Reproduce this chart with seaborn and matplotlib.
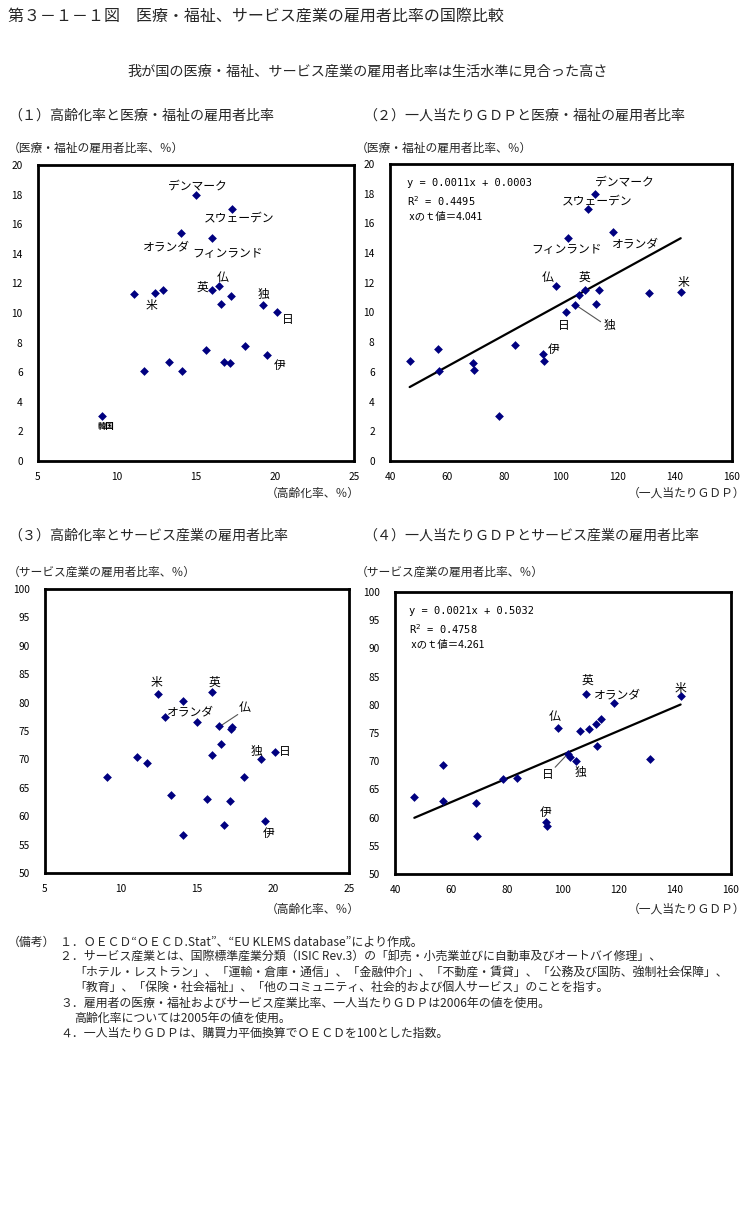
import numpy as np
import pandas as pd
import matplotlib
matplotlib.use('Agg')
import matplotlib.pyplot as plt
import seaborn as sns

# データ（2006年、高齢化率は2005年）
countries = ['デンマーク', 'スウェーデン', 'オランダ', 'フィンランド', 'アイルランド', '米',
             'オーストラリア', '英', '仏', 'ベルギー', 'オーストリア', '独', '日', 'ハンガリー',
             'ギリシャ', '伊', 'スペイン', 'ポーランド', 'ポルトガル', 'スロバキア', 'チェコ', '韓国']
aging = [15.0, 17.28, 14.07, 15.99, 11.08, 12.41, 12.91, 16.01, 16.46, 17.22, 16.58,
         19.24, 20.13, 15.63, 18.1, 19.47, 16.77, 13.29, 17.15, 11.71, 14.11, 9.05]
health = [17.98, 17.0, 15.4, 15.05, 11.3, 11.38, 11.54, 11.54, 11.81, 11.17, 10.6,
          10.53, 10.05, 7.52, 7.8, 7.18, 6.72, 6.71, 6.62, 6.05, 6.1, 3.03]
gdp = [111.8, 109.3, 118.1, 102.6, 131.0, 142.0, 113.5, 108.3, 98.1, 106.2, 112.2,
       104.8, 101.7, 57.0, 83.7, 93.8, 94.2, 46.9, 69.0, 57.2, 69.4, 78.4]
service = [76.57, 75.65, 80.35, 70.8, 70.35, 81.58, 77.53, 81.92, 75.9, 75.3, 72.64,
           70.1, 71.25, 62.95, 66.98, 59.22, 58.5, 63.65, 62.65, 69.28, 56.75, 66.83]

df = pd.DataFrame({'country': countries, 'aging': aging, 'health': health,
                   'gdp': gdp, 'service': service})

# 回帰式の表示テキスト
eq_health = ['y = 0.0011x + 0.0003', 'R$^2$ = 0.4495', ' xのｔ値＝4.041']
eq_service = ['y = 0.0021x + 0.5032', 'R$^2$ = 0.4758', ' xのｔ値＝4.261']

sns.set_theme(style='white')
plt.rcParams['font.family'] = ['Noto Sans CJK JP', 'DejaVu Sans']
plt.rcParams['axes.unicode_minus'] = False

W, H = 748, 1213
fig = plt.figure(figsize=(W / 100, H / 100), dpi=100)
fig.patch.set_facecolor('white')


def rect(l, t, r, b):
    return [l / W, 1 - b / H, (r - l) / W, (b - t) / H]


def ftext(x, y, s, size=8, ha='left', **kw):
    fig.text(x / W, 1 - y / H, s, fontsize=size, ha=ha, va='center', **kw)


NAVY = '#000080'


def panel(ax, x, y, xlim, xticks, ylim, yticks, fit=False):
    if fit:
        sns.regplot(data=df, x=x, y=y, ax=ax, scatter=False, ci=None, truncate=True,
                    line_kws=dict(color='black', lw=1.6))
    sns.scatterplot(data=df, x=x, y=y, ax=ax, marker='D', s=20, color=NAVY,
                    edgecolor=NAVY, linewidth=0, zorder=3)
    ax.set_xlim(*xlim)
    ax.set_ylim(*ylim)
    ax.set_xticks(xticks)
    ax.set_yticks(yticks)
    ax.set_xlabel('')
    ax.set_ylabel('')
    ax.tick_params(length=0, labelsize=7.3, colors='black')
    ax.tick_params(axis='y', pad=11)
    ax.tick_params(axis='x', pad=8)
    for sp in ax.spines.values():
        sp.set_visible(True)
        sp.set_color('black')
        sp.set_linewidth(2)
    ax.grid(False)


def lab(ax, s, x, y, size=8.5, **kw):
    ax.text(x, y, s, fontsize=size, ha='center', va='center', color='black', **kw)


def leader(ax, p0, p1):
    ax.plot([p0[0], p1[0]], [p0[1], p1[1]], color='#555555', lw=0.8, zorder=2)


ax1 = fig.add_axes(rect(38, 165, 354, 461))
ax2 = fig.add_axes(rect(390, 164, 732, 461))
ax3 = fig.add_axes(rect(45, 589, 349, 873))
ax4 = fig.add_axes(rect(395, 592, 731, 874))

panel(ax1, 'aging', 'health', (5, 25), range(5, 26, 5), (0, 20), range(0, 21, 2))
panel(ax2, 'gdp', 'health', (40, 160), range(40, 161, 20), (0, 20), range(0, 21, 2), fit=True)
panel(ax3, 'aging', 'service', (5, 25), range(5, 26, 5), (50, 100), range(50, 101, 5))
panel(ax4, 'gdp', 'service', (40, 160), range(40, 161, 20), (50, 100), range(50, 101, 5), fit=True)

# (1) ラベル
lab(ax1, 'デンマーク', 15.06, 18.56)
lab(ax1, 'スウェーデン', 17.72, 16.35)
lab(ax1, 'オランダ', 13.12, 14.48)
lab(ax1, 'フィンランド', 16.98, 14.02)
lab(ax1, '仏', 16.67, 12.4)
lab(ax1, '英', 15.38, 11.72)
lab(ax1, '米', 12.21, 10.48)
lab(ax1, '独', 19.26, 11.27)
lab(ax1, '日', 20.78, 9.58)
lab(ax1, '伊', 20.3, 6.47)
lab(ax1, '韓国', 9.32, 2.35, size=6, fontweight='bold')

# (2) ラベル
lab(ax2, 'デンマーク', 122.2, 18.76)
lab(ax2, 'スウェーデン', 112.8, 17.48)
lab(ax2, 'フィンランド', 102.1, 14.26)
lab(ax2, 'オランダ', 126.3, 14.6)
lab(ax2, '仏', 95.4, 12.37)
lab(ax2, '英', 108.3, 12.35)
lab(ax2, '米', 143.0, 12.01)
lab(ax2, '日', 101.1, 9.11)
lab(ax2, '独', 117.0, 9.11)
leader(ax2, (104.8, 10.55), (113.9, 9.38))
lab(ax2, '伊', 97.4, 7.54)
for i, (s, yf) in enumerate(zip(eq_health, [0.936, 0.874, 0.823])):
    fam = ['DejaVu Sans Mono'] if i < 2 else ['Noto Sans CJK JP', 'DejaVu Sans']
    ax2.text(0.049, yf, s, transform=ax2.transAxes, fontsize=7.5, family=fam,
             ha='left', va='center', color='black')

# (3) ラベル
lab(ax3, '米', 12.32, 83.6)
lab(ax3, '英', 16.14, 83.6)
lab(ax3, 'オランダ', 14.54, 78.38)
lab(ax3, '仏', 18.12, 79.08)
leader(ax3, (16.58, 75.95), (17.68, 77.9))
lab(ax3, '独', 18.89, 71.33)
lab(ax3, '日', 20.8, 71.33)
lab(ax3, '伊', 19.7, 56.93)

# (4) ラベル
lab(ax4, '英', 108.7, 84.3)
lab(ax4, 'オランダ', 119.4, 81.8)
lab(ax4, '米', 141.9, 82.96)
lab(ax4, '仏', 97.0, 77.93)
lab(ax4, '日', 94.7, 67.7)
leader(ax4, (101.6, 71.24), (97.2, 68.93))
lab(ax4, '独', 106.1, 67.99)
lab(ax4, '伊', 93.9, 60.89)
for i, (s, yf) in enumerate(zip(eq_service, [0.931, 0.869, 0.813])):
    fam = ['DejaVu Sans Mono'] if i < 2 else ['Noto Sans CJK JP', 'DejaVu Sans']
    ax4.text(0.043, yf, s, transform=ax4.transAxes, fontsize=7.5, family=fam,
             ha='left', va='center', color='black')

# 見出し・軸ラベル
ftext(8, 16, '第３－１－１図　医療・福祉、サービス産業の雇用者比率の国際比較', size=11.5)
ftext(368, 72, '我が国の医療・福祉、サービス産業の雇用者比率は生活水準に見合った高さ', size=10.2, ha='center')
ftext(8, 116, '（１）高齢化率と医療・福祉の雇用者比率', size=10.1)
ftext(363, 116, '（２）一人当たりＧＤＰと医療・福祉の雇用者比率', size=10.1)
ftext(8, 148, '（医療・福祉の雇用者比率、％）', size=8.5)
ftext(356, 148, '（医療・福祉の雇用者比率、％）', size=8.5)
ftext(360, 493, '（高齢化率、％）', size=8.5, ha='right')
ftext(745, 493, '（一人当たりＧＤＰ）', size=8.5, ha='right')
ftext(8, 536, '（３）高齢化率とサービス産業の雇用者比率', size=10.1)
ftext(363, 536, '（４）一人当たりＧＤＰとサービス産業の雇用者比率', size=10.1)
ftext(8, 572, '（サービス産業の雇用者比率、％）', size=8.5)
ftext(356, 572, '（サービス産業の雇用者比率、％）', size=8.5)
ftext(360, 909, '（高齢化率、％）', size=8.5, ha='right')
ftext(745, 909, '（一人当たりＧＤＰ）', size=8.5, ha='right')

# 備考
notes = [
    (8, '（備考）'),
    (60, '１．ＯＥＣＤ“ＯＥＣＤ.Stat”、“EU KLEMS database”により作成。'),
    (60, '２．サービス産業とは、国際標準産業分類（ISIC Rev.3）の「卸売・小売業並びに自動車及びオートバイ修理」、'),
    (74, '「ホテル・レストラン」、「運輸・倉庫・通信」、「金融仲介」、「不動産・賃貸」、「公務及び国防、強制社会保障」、'),
    (74, '「教育」、「保険・社会福祉」、「他のコミュニティ、社会的および個人サービス」のことを指す。'),
    (60, '３．雇用者の医療・福祉およびサービス産業比率、一人当たりＧＤＰは2006年の値を使用。'),
    (74, '高齢化率については2005年の値を使用。'),
    (60, '４．一人当たりＧＤＰは、購買力平価換算でＯＥＣＤを100とした指数。'),
]
row = 0
for x, s in notes:
    if x == 8:
        ftext(x, 942, s, size=8.6)
        continue
    ftext(x, 942 + row * 15.2, s, size=8.6)
    row += 1

fig.savefig('out.png', dpi=100, facecolor='white')
